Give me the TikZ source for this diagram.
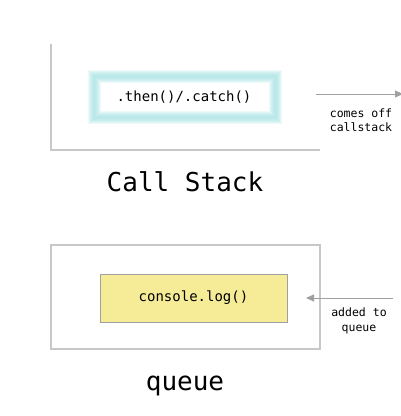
\documentclass[tikz,border=0pt]{standalone}
\usepackage{fontspec}
\setmonofont{DejaVu Sans Mono}
\usetikzlibrary{arrows.meta,positioning}

\definecolor{framegray}{RGB}{200,200,200}
\definecolor{glowteal}{RGB}{150,220,222}
\definecolor{noteyellow}{RGB}{246,236,152}
\definecolor{arrowgray}{RGB}{160,160,160}

\begin{document}
\begin{tikzpicture}[
		x=1pt, y=-1pt,
		frame/.style={draw=framegray, line width=1.2pt},
		code/.style={font=\ttfamily\fontsize{14}{16}\selectfont, inner sep=0pt},
		title/.style={font=\ttfamily\fontsize{26}{28}\selectfont},
		note/.style={font=\ttfamily\fontsize{11.5}{14.5}\selectfont, align=center, inner sep=0pt},
		flow/.style={draw=arrowgray, line width=1pt, -{Triangle[length=8pt,width=7pt]}},
	]
		\useasboundingbox (0,0) rectangle (401,416);
		
		% call stack frame
		\draw[frame] (51,44) -- (51,150) -- (320,150);
		\foreach \w in {13,11,9,7,5,3}
			\draw[glowteal, line width=\w pt, opacity=0.16] (94.5,76.5) rectangle (275.5,117.5);
		\node[code] (thencatch) at (184,97) {.then()/.catch()};
		\node[title] (callstack) at (185,182) {Call Stack};
		
		\coordinate (offstart) at (316,94);
		\coordinate (offend) at (403,94);
		\draw[flow] (offstart) -- (offend);
		\node[note] (comesoff) at (361,120) {comes off\\callstack};
		
		% queue frame
		\draw[frame] (51,245) rectangle (320,349);
		\node[code, draw=arrowgray, fill=noteyellow, minimum width=187pt, minimum height=48pt] (consolelog) at (193.5,298) {console.log()};
		\node[title] (queue) at (185,386) {queue};
		
		\coordinate (addstart) at (393,298);
		\coordinate (addend) at (306,298);
		\draw[flow] (addstart) -- (addend);
		\node[note] (addedto) at (359,321) {added to\\queue};
	\end{tikzpicture}
\end{document}
